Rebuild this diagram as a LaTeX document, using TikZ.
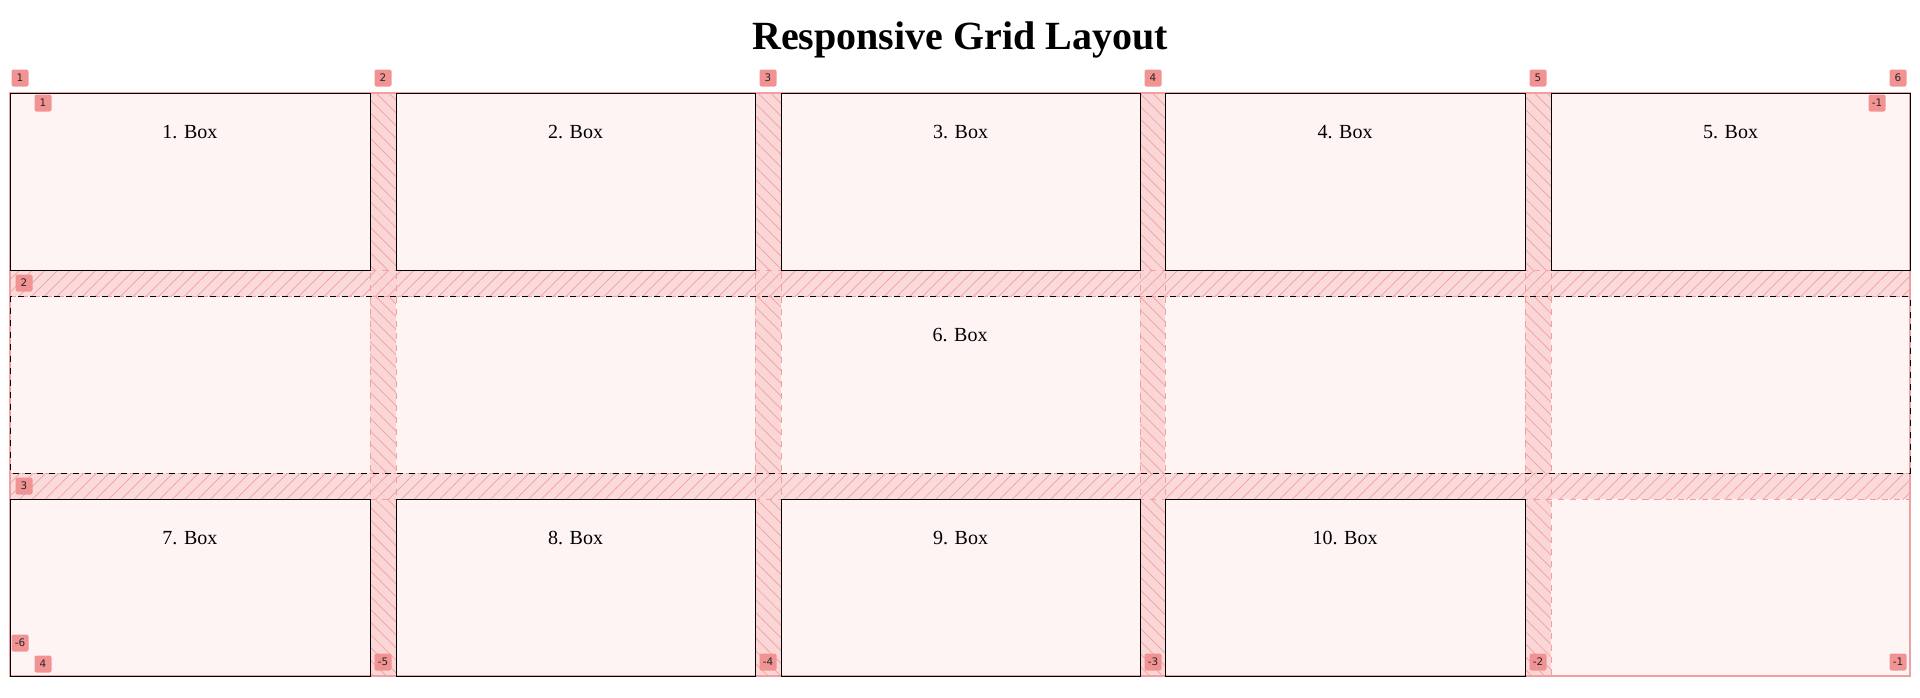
\documentclass[tikz,border=0pt]{standalone}
\usepackage{fontspec}
\setmainfont{Liberation Serif}
\newfontfamily\tagfont{DejaVu Sans}
\usetikzlibrary{patterns.meta}
\definecolor{cellfill}{HTML}{FFF4F4}
\definecolor{gapfill}{HTML}{FAD6D6}
\definecolor{tagfill}{HTML}{F29393}
\definecolor{gridline}{HTML}{F0A0A0}
\tikzset{
  cell/.style={draw=black, line width=0.5pt},
  gaprect/.style={fill=gapfill},
  tag/.style={fill=tagfill, rounded corners=1pt, minimum width=8.5pt, minimum height=8.5pt, inner sep=0.8pt, font=\tagfont\fontsize{5.2}{6}\selectfont, text=black!85},
  boxlabel/.style={font=\fontsize{10}{12}\selectfont, anchor=north},
}
\begin{document}
\begin{tikzpicture}[x=0.5pt,y=-0.5pt]
\useasboundingbox (0,0) rectangle (1920,697);
\node[font=\bfseries\fontsize{20}{24}\selectfont] (title) at (960,40) {Responsive Grid Layout};
\fill[cellfill] (10,93) rectangle (1910,676);
\foreach \a/\b in {370/396,755/781,1140/1165,1525/1551}{
  \fill[gaprect] (\a,93) rectangle (\b,676);
  \fill[pattern={Lines[angle=-45,distance=4.5pt,line width=0.35pt]}, pattern color=gridline] (\a,93) rectangle (\b,676);
}
\foreach \a/\b in {270/296,473/499}{
  \fill[gaprect, fill opacity=0.85] (10,\a) rectangle (1910,\b);
  \fill[pattern={Lines[angle=45,distance=4.5pt,line width=0.35pt]}, pattern color=gridline] (10,\a) rectangle (1910,\b);
}
\foreach \x in {370,396,755,781,1140,1165,1525,1551}
  \draw[gridline, dashed, line width=0.4pt] (\x,93) -- (\x,676);
\foreach \y in {270,296,473,499}
  \draw[gridline, dashed, line width=0.4pt] (10,\y) -- (1910,\y);
\draw[gridline, line width=0.6pt] (10,93) rectangle (1910,676);
\foreach \i/\a/\b in {1/10/370,2/396/755,3/781/1140,4/1165/1525,5/1551/1910}{
  \draw[cell] (\a,93) rectangle (\b,270);
  \node[boxlabel] (b\i) at ({(\a+\b)/2},118) {\i. Box};
}
\draw[cell, dashed] (10,296) rectangle (1910,473);
\node[boxlabel] (b6) at (960,321) {6. Box};
\foreach \i/\a/\b in {7/10/370,8/396/755,9/781/1140,10/1165/1525}{
  \draw[cell] (\a,499) rectangle (\b,676);
  \node[boxlabel] (b\i) at ({(\a+\b)/2},524) {\i. Box};
}
\foreach \n/\x in {1/20,2/383,3/768,4/1153,5/1538,6/1898}
  \node[tag] (t\n) at (\x,78) {\n};
\node[tag] (i1) at (43,103) {1};
\node[tag] (im1) at (1877,103) {-1};
\node[tag] (r2) at (24,283) {2};
\node[tag] (r3) at (24,486) {3};
\node[tag] (rm6) at (20,643) {-6};
\node[tag] (r4) at (43,664) {4};
\foreach \n/\x in {-5/383,-4/768,-3/1153,-2/1538,-1/1898}
  \node[tag] (tb\n) at (\x,662) {\n};
\end{tikzpicture}
\end{document}
